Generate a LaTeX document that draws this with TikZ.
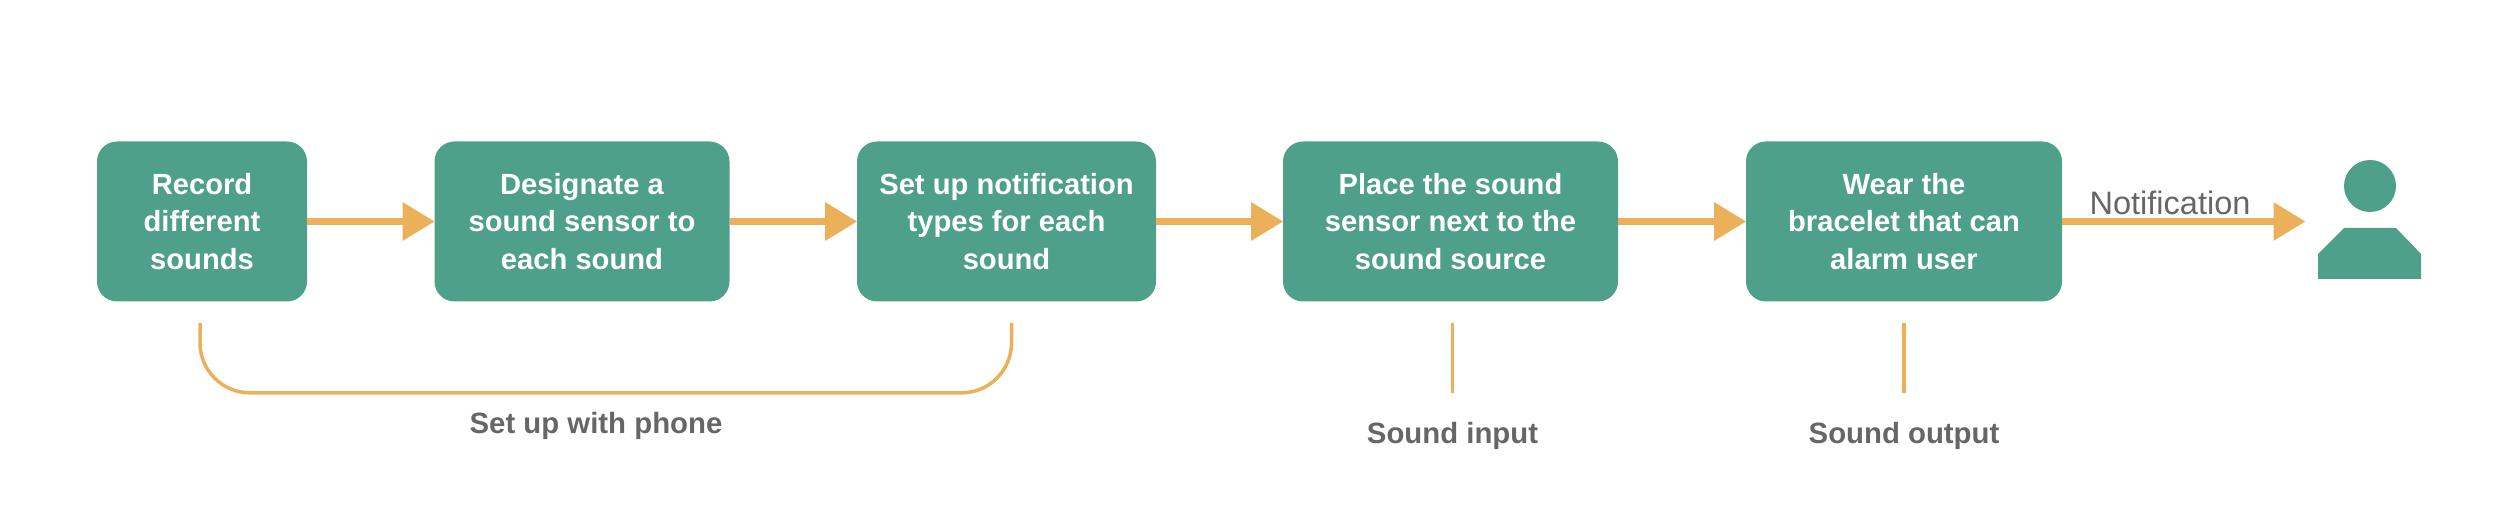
\documentclass[tikz,border=0pt]{standalone}
\usepackage{fontspec}
\setmainfont{Liberation Sans}
\usetikzlibrary{arrows.meta,positioning}
\definecolor{teal1}{RGB}{79,160,139}
\definecolor{amber1}{RGB}{235,176,90}
\definecolor{gray1}{RGB}{102,102,102}
\tikzset{
  stepbox/.style={rectangle,rounded corners=0.4cm,fill=teal1,text=white,align=center,
    font=\fontsize{16.6}{21.3}\selectfont\bfseries,minimum height=3.2cm,inner sep=0pt},
  flow/.style={draw=amber1,line width=0.13cm,-{Triangle[length=0.64cm,width=0.74cm]},shorten >=-0.01cm},
  tie/.style={draw=amber1,line width=0.07cm},
  note/.style={text=gray1,font=\fontsize{16.7}{21}\selectfont\bfseries,inner sep=0pt},
}
\begin{document}
\begin{tikzpicture}
    \useasboundingbox (0,0) rectangle (50,10.34);
    \foreach \x/\w/\t [count=\i from 1] in {
      4.04/4.2/Record\\different\\sounds,
      11.64/5.9/Designate a\\sound sensor to\\each sound,
      20.13/5.98/Set up notification\\types for each\\sound,
      29.01/6.7/Place the sound\\sensor next to the\\sound source,
      38.08/6.32/Wear the\\bracelet that can\\alarm user}
    {
      \node[stepbox,minimum width=\w cm] (b\i) at (\x,5.91) {\t};
    }
    \foreach \a/\b in {1/2,2/3,3/4,4/5}
      \draw[flow] (b\a) -- (b\b);
    % person
    \node[circle,fill=teal1,minimum size=1.04cm,inner sep=0pt] (head) at (47.4,6.62) {};
    \coordinate (user) at (46.1,5.91);
    \fill[teal1] (46.36,4.76) -- (48.42,4.76) -- (48.42,5.26) -- (47.92,5.78) -- (46.88,5.78) -- (46.36,5.26) -- cycle;
    \draw[flow] (b5) -- (user);
    \node[text=gray1,font=\fontsize{18.5}{21}\selectfont,inner sep=0pt] (notif) at (43.4,6.29) {Notification};
    % lines under the boxes
    \coordinate (s1) at ([xshift=-0.04cm,yshift=-0.42cm]b1.south);
    \coordinate (s3) at ([xshift=0.1cm,yshift=-0.42cm]b3.south);
    \coordinate (s4) at ([xshift=0.04cm,yshift=-0.42cm]b4.south);
    \coordinate (s5) at ([yshift=-0.42cm]b5.south);
    \draw[tie,rounded corners=1cm] (s1) -- ++(0,-1.4) -| (s3);
    \draw[tie] (s4) -- ++(0,-1.4) coordinate (e4);
    \draw[tie] (s5) -- ++(0,-1.4) coordinate (e5);
    \node[note] (phone) at (11.92,1.82) {Set up with phone};
    \node[note,below=0.58cm of e4] (input) {Sound input};
    \node[note,below=0.58cm of e5] (output) {Sound output};
  \end{tikzpicture}
\end{document}
